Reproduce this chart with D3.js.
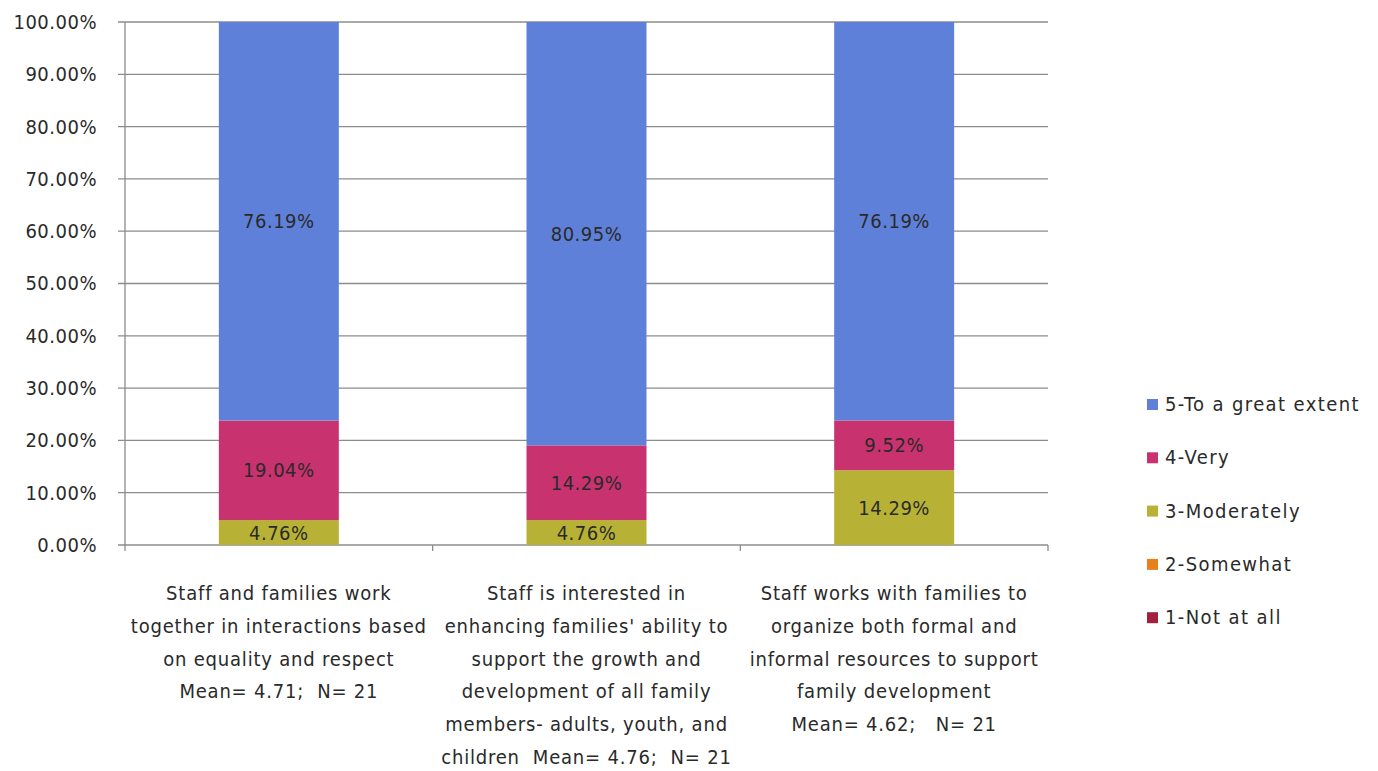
<!DOCTYPE html>
<html>
<head>
<meta charset="utf-8">
<script src="https://cdn.jsdelivr.net/npm/d3@7"></script>
<style>
  html, body { margin: 0; padding: 0; background: #fff; }
  svg text { font-family: "DejaVu Sans Condensed", "DejaVu Sans", Verdana, sans-serif; font-stretch: condensed; fill: #2a2a2a; white-space: pre; }
</style>
</head>
<body>
<svg id="chart" width="1378" height="771"></svg>
<script>
// Survey items (x-axis categories), each label split into display lines
const categories = ["item1", "item2", "item3"];
const categoryLines = [
  ["Staff and families work", "together in interactions based", "on equality and respect", "Mean= 4.71;  N= 21"],
  ["Staff is interested in", "enhancing families' ability to", "support the growth and", "development of all family", "members- adults, youth, and", "children  Mean= 4.76;  N= 21"],
  ["Staff works with families to", "organize both formal and", "informal resources to support", "family development", "Mean= 4.62;   N= 21"]
];

// Response levels, bottom of stack first
const seriesNames = ["1-Not at all", "2-Somewhat", "3-Moderately", "4-Very", "5-To a great extent"];
const seriesColors = ["#A3203F", "#E8801E", "#B7B236", "#C8336F", "#5F80D9"];

// Percent of respondents per level, one value per category
const notAtAll   = [0, 0, 0];
const somewhat   = [0, 0, 0];
const moderately = [4.76, 4.76, 14.29];
const very       = [19.04, 14.29, 9.52];
const greatExtent = [76.19, 80.95, 76.19];

const yTicks = [0, 10, 20, 30, 40, 50, 60, 70, 80, 90, 100];

const seriesValues = [notAtAll, somewhat, moderately, very, greatExtent];
const rows = categories.map((c, i) => {
  const r = { category: c };
  seriesNames.forEach((s, k) => { r[s] = seriesValues[k][i]; });
  return r;
});

const FS = 20;
const svg = d3.select("#chart");
const margin = { left: 125, right: 330, top: 22, bottom: 226 };
const W = 1378, H = 771;
const plotW = W - margin.left - margin.right;
const plotH = H - margin.top - margin.bottom;

const x = d3.scaleBand().domain(categories).range([margin.left, margin.left + plotW]).paddingInner(0.61).paddingOuter(0.305);
const xOuter = d3.scaleBand().domain(categories).range([margin.left, margin.left + plotW]);
const y = d3.scaleLinear().domain([0, 100]).range([margin.top + plotH, margin.top]);

// Horizontal gridlines
svg.append("g").selectAll("line").data(yTicks).join("line")
  .attr("x1", margin.left - 7).attr("x2", margin.left + plotW)
  .attr("y1", d => y(d)).attr("y2", d => y(d))
  .attr("stroke", "#8c8c8c").attr("stroke-width", 1.3);

// Y axis labels
const yAxis = d3.axisLeft(y).tickValues(yTicks).tickSize(0).tickPadding(28)
  .tickFormat(d => d.toFixed(2) + "%");
const gy = svg.append("g").attr("transform", `translate(${margin.left},0)`).call(yAxis);
gy.select(".domain").remove();
gy.selectAll("text").attr("font-size", FS).attr("font-family", null).attr("fill", "#2a2a2a")
  .attr("letter-spacing", 0.5);

// Stacked bars
const stack = d3.stack().keys(seriesNames);
const layers = stack(rows);
const layerG = svg.append("g").selectAll("g").data(layers).join("g")
  .attr("fill", (d, i) => seriesColors[i]);
layerG.selectAll("rect").data(d => d).join("rect")
  .attr("x", d => x(d.data.category))
  .attr("width", x.bandwidth())
  .attr("y", d => y(d[1]))
  .attr("height", d => y(d[0]) - y(d[1]));

// Segment value labels
layers.forEach((layer, i) => {
  svg.append("g").selectAll("text").data(layer.filter(d => d[1] - d[0] > 0)).join("text")
    .attr("x", d => x(d.data.category) + x.bandwidth() / 2)
    .attr("y", d => (y(d[0]) + y(d[1])) / 2)
    .attr("dy", "0.35em")
    .attr("text-anchor", "middle")
    .attr("font-size", FS)
    .attr("letter-spacing", 0.5)
    .text(d => (d[1] - d[0]).toFixed(2) + "%");
});

// Y axis line and category boundary ticks
svg.append("line")
  .attr("x1", margin.left).attr("x2", margin.left)
  .attr("y1", margin.top).attr("y2", margin.top + plotH + 6)
  .attr("stroke", "#8c8c8c").attr("stroke-width", 1.3);
svg.append("g").selectAll("line").data(categories).join("line")
  .attr("x1", d => xOuter(d) + xOuter.bandwidth()).attr("x2", d => xOuter(d) + xOuter.bandwidth())
  .attr("y1", margin.top + plotH).attr("y2", margin.top + plotH + 6)
  .attr("stroke", "#8c8c8c").attr("stroke-width", 1.3);

// Category labels
const catG = svg.append("g").selectAll("text").data(categories).join("text")
  .attr("text-anchor", "middle")
  .attr("font-size", FS)
  .attr("letter-spacing", 0.8)
  .attr("x", d => xOuter(d) + xOuter.bandwidth() / 2)
  .attr("y", 600);
catG.each(function(d, i) {
  const t = d3.select(this);
  categoryLines[i].forEach((line, j) => {
    t.append("tspan")
      .attr("x", xOuter(d) + xOuter.bandwidth() / 2)
      .attr("y", 600 + j * 32.8)
      .text(line);
  });
});

// Legend, top level first
const legendOrder = seriesNames.slice().reverse();
const legend = svg.append("g").attr("transform", "translate(1147,404)");
const li = legend.selectAll("g").data(legendOrder).join("g")
  .attr("transform", (d, i) => `translate(0,${i * 53.3})`);
li.append("rect").attr("x", 0).attr("y", -5).attr("width", 11).attr("height", 11)
  .attr("fill", d => seriesColors[seriesNames.indexOf(d)]);
li.append("text").attr("x", 18).attr("dy", "0.35em").attr("font-size", FS)
  .attr("letter-spacing", 1.4).text(d => d);
</script>
</body>
</html>
